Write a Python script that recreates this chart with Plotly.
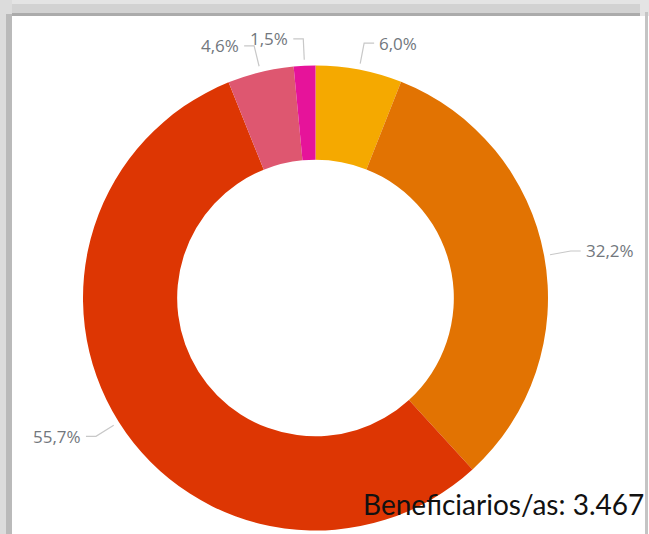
import math
import plotly.graph_objects as go

categories = ["Grupo A", "Grupo B", "Grupo C", "Grupo D", "Grupo E"]
values = [6.0, 32.2, 55.7, 4.6, 1.5]
labels_text = ["6,0%", "32,2%", "55,7%", "4,6%", "1,5%"]
colors = ["#F5A900", "#E27302", "#DD3603", "#DE5770", "#E6139A"]
total_text = "Beneficiarios/as: 3.467"

W, H = 649, 534
CX, CY, R = 315.5, 298.0, 232.5


def px(x):
    return x / W


def py(y):
    return 1 - y / H


fig = go.Figure()
fig.add_trace(go.Pie(
    labels=categories,
    values=values,
    sort=False,
    direction="clockwise",
    rotation=0,
    hole=0.595,
    marker=dict(colors=colors, line=dict(width=0)),
    textinfo="none",
    hoverinfo="label+percent",
    showlegend=False,
    domain=dict(x=[px(CX - R), px(CX + R)], y=[py(CY + R), py(CY - R)]),
))

shapes = []
annotations = []
tot = sum(values)
cum = 0.0
for v, t in zip(values, labels_text):
    mid = (cum + v / 2) / tot * 2 * math.pi
    cum += v
    s, c = math.sin(mid), math.cos(mid)
    x0, y0 = CX + (R + 6) * s, CY - (R + 6) * c
    xe, ye = CX + (R + 27) * s, CY - (R + 27) * c
    side = 1 if s >= 0 else -1
    xh = xe + side * 10
    shapes.append(dict(
        type="path", xref="paper", yref="paper",
        path=f"M {px(x0)},{py(y0)} L {px(xe)},{py(ye)} L {px(xh)},{py(ye)}",
        line=dict(color="#C8C8C8", width=1.2),
    ))
    annotations.append(dict(
        x=px(xh + side * 3), y=py(ye), xref="paper", yref="paper",
        text=t, showarrow=False,
        xanchor="left" if side > 0 else "right", yanchor="middle",
        font=dict(family="Open Sans", size=17, color="#72777D"),
    ))

# frame / shadow decoration
shapes += [
    dict(type="rect", xref="paper", yref="paper", x0=0, x1=1, y0=py(16), y1=1,
         fillcolor="#E4E4E4", line=dict(width=0), layer="below"),
    dict(type="rect", xref="paper", yref="paper", x0=px(10), x1=px(640), y0=py(13), y1=py(4),
         fillcolor="#D2D2D2", line=dict(width=0), layer="below"),
    dict(type="rect", xref="paper", yref="paper", x0=px(12), x1=px(640), y0=py(16), y1=py(13),
         fillcolor="#ABABAB", line=dict(width=0), layer="below"),
    dict(type="rect", xref="paper", yref="paper", x0=0, x1=px(12), y0=0, y1=py(0),
         fillcolor="#DCDCDC", line=dict(width=0), layer="below"),
    dict(type="rect", xref="paper", yref="paper", x0=px(6), x1=px(12), y0=0, y1=py(14),
         fillcolor="#BABABA", line=dict(width=0), layer="below"),
    dict(type="rect", xref="paper", yref="paper", x0=px(645), x1=px(648), y0=0, y1=py(12),
         fillcolor="#C4C4C4", line=dict(width=0), layer="below"),
]

annotations.append(dict(
    x=px(646), y=py(504), xref="paper", yref="paper",
    text=total_text, showarrow=False, xanchor="right", yanchor="middle",
    font=dict(family="Lato", size=28, color="#111111"),
))

fig.update_layout(
    width=W, height=H,
    margin=dict(l=0, r=0, t=0, b=0),
    paper_bgcolor="white",
    plot_bgcolor="white",
    shapes=shapes,
    annotations=annotations,
)

fig.write_html(
    "out.html",
    config={"displayModeBar": False},
    post_script="document.body.style.margin='0';document.body.style.overflow='hidden';",
)
